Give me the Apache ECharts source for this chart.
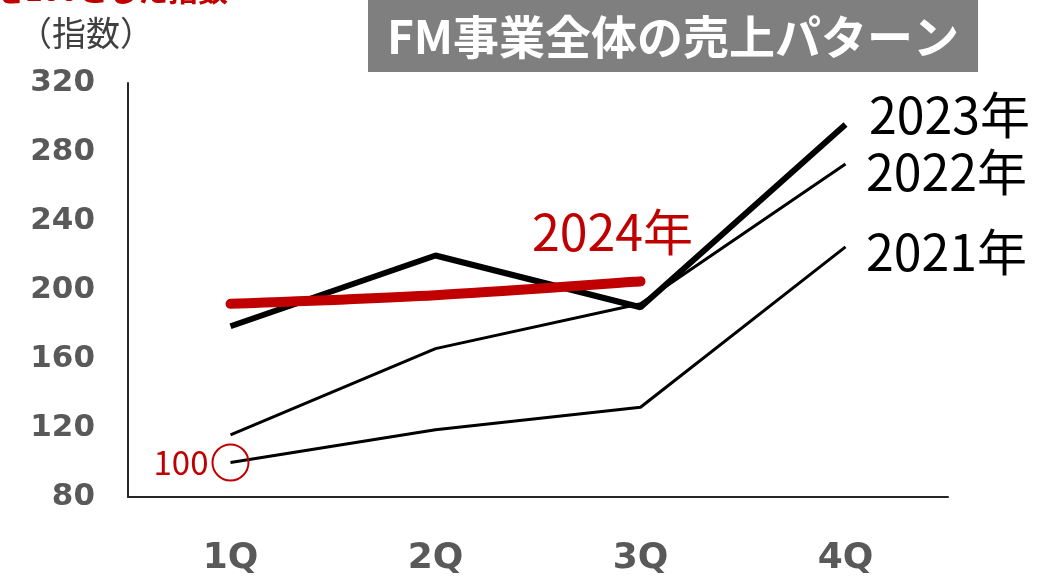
<!DOCTYPE html>
<html lang="ja">
<head>
    <meta charset="UTF-8">
    <title>FM事業全体の売上パターン</title>
    <script src="https://cdn.jsdelivr.net/npm/echarts@6/dist/echarts.min.js"></script>
    <style>
        html, body { margin: 0; padding: 0; background: #fff; }
        #chart { width: 1064px; height: 584px; }
    </style>
</head>
<body>
<div id="chart"></div>
<script type="text/javascript">
    // quarters and index values (2021 1Q = 100)
    const quarters = ['1Q', '2Q', '3Q', '4Q'];
    const yearNames = ['2021年', '2022年', '2023年', '2024年'];
    const v2021 = [100, 119, 132, 225];
    const v2022 = [116, 166, 192, 273];
    const v2023 = [179, 220, 190, 296];
    const v2024 = [192, 197, 205];
    const yTicks = [80, 120, 160, 200, 240, 280, 320];

    const RED = '#C00000';
    const jp = '"Noto Sans CJK JP", "Noto Sans", sans-serif';

    let chart = echarts.init(document.getElementById('chart'));

    // year label next to its line
    function yearText(x, y, text, color) {
        return {
            type: 'text', x: x, y: y,
            style: { text: text, verticalAlign: 'middle', fill: color, fontSize: 50, fontFamily: jp }
        };
    }

    let option = {
        backgroundColor: '#fff',
        animation: false,
        grid: { left: 128, right: 116, top: 83, bottom: 87 },
        xAxis: {
            type: 'category',
            data: quarters,
            boundaryGap: true,
            axisLine: { lineStyle: { color: '#262626', width: 2 } },
            axisTick: { show: false },
            axisLabel: {
                margin: 44,
                color: '#595959',
                fontSize: 36,
                fontWeight: 'bold',
                fontFamily: '"DejaVu Sans", sans-serif'
            }
        },
        yAxis: {
            type: 'value',
            min: yTicks[0],
            max: yTicks[yTicks.length - 1],
            interval: 40,
            axisLine: { show: true, lineStyle: { color: '#262626', width: 2 } },
            axisTick: { show: false },
            splitLine: { show: false },
            axisLabel: {
                margin: 33,
                color: '#595959',
                fontSize: 31,
                fontWeight: 'bold',
                fontFamily: '"DejaVu Sans", sans-serif'
            }
        },
        series: [
            {
                name: yearNames[0], type: 'line', data: v2021, symbol: 'none',
                lineStyle: { color: '#000', width: 3 },
                markPoint: {
                    symbol: 'circle', symbolSize: 36,
                    itemStyle: { color: 'transparent', borderColor: RED, borderWidth: 2 },
                    label: {
                        show: true, position: 'left', distance: 3,
                        formatter: '{c}', color: RED, fontSize: 33,
                        fontFamily: jp
                    },
                    data: [{ coord: [0, v2021[0]], value: v2021[0] }]
                }
            },
            {
                name: yearNames[1], type: 'line', data: v2022, symbol: 'none',
                lineStyle: { color: '#000', width: 3 }
            },
            {
                name: yearNames[2], type: 'line', data: v2023, symbol: 'none',
                lineStyle: { color: '#000', width: 6 }
            },
            {
                name: yearNames[3], type: 'line', data: v2024, symbol: 'none',
                smooth: 0.3,
                lineStyle: { color: RED, width: 10, cap: 'round' }
            }
        ],
        graphic: [
            // red heading, cut off by the top edge
            {
                type: 'text', x: 228, y: 5,
                style: {
                    text: '2021年1Qを100とした指数', align: 'right', verticalAlign: 'bottom',
                    fill: RED, fontSize: 30, fontWeight: 'bold', fontFamily: jp
                }
            },
            {
                type: 'text', x: 18, y: 33,
                style: {
                    text: '（指数）', verticalAlign: 'middle',
                    fill: '#404040', fontSize: 34, fontFamily: jp
                }
            },
            {
                type: 'rect', shape: { x: 368, y: 0, width: 610, height: 72 },
                style: { fill: '#7F7F7F' }
            },
            {
                type: 'text', x: 673, y: 37,
                style: {
                    text: 'FM事業全体の売上パターン', align: 'center', verticalAlign: 'middle',
                    fill: '#fff', fontSize: 46, fontWeight: 'bold', fontFamily: jp
                }
            },
            yearText(869, 115, yearNames[2], '#000'),
            yearText(866, 172, yearNames[1], '#000'),
            yearText(866, 252, yearNames[0], '#000'),
            yearText(532, 232, yearNames[3], RED)
        ]
    };

    chart.setOption(option);
</script>
</body>
</html>
